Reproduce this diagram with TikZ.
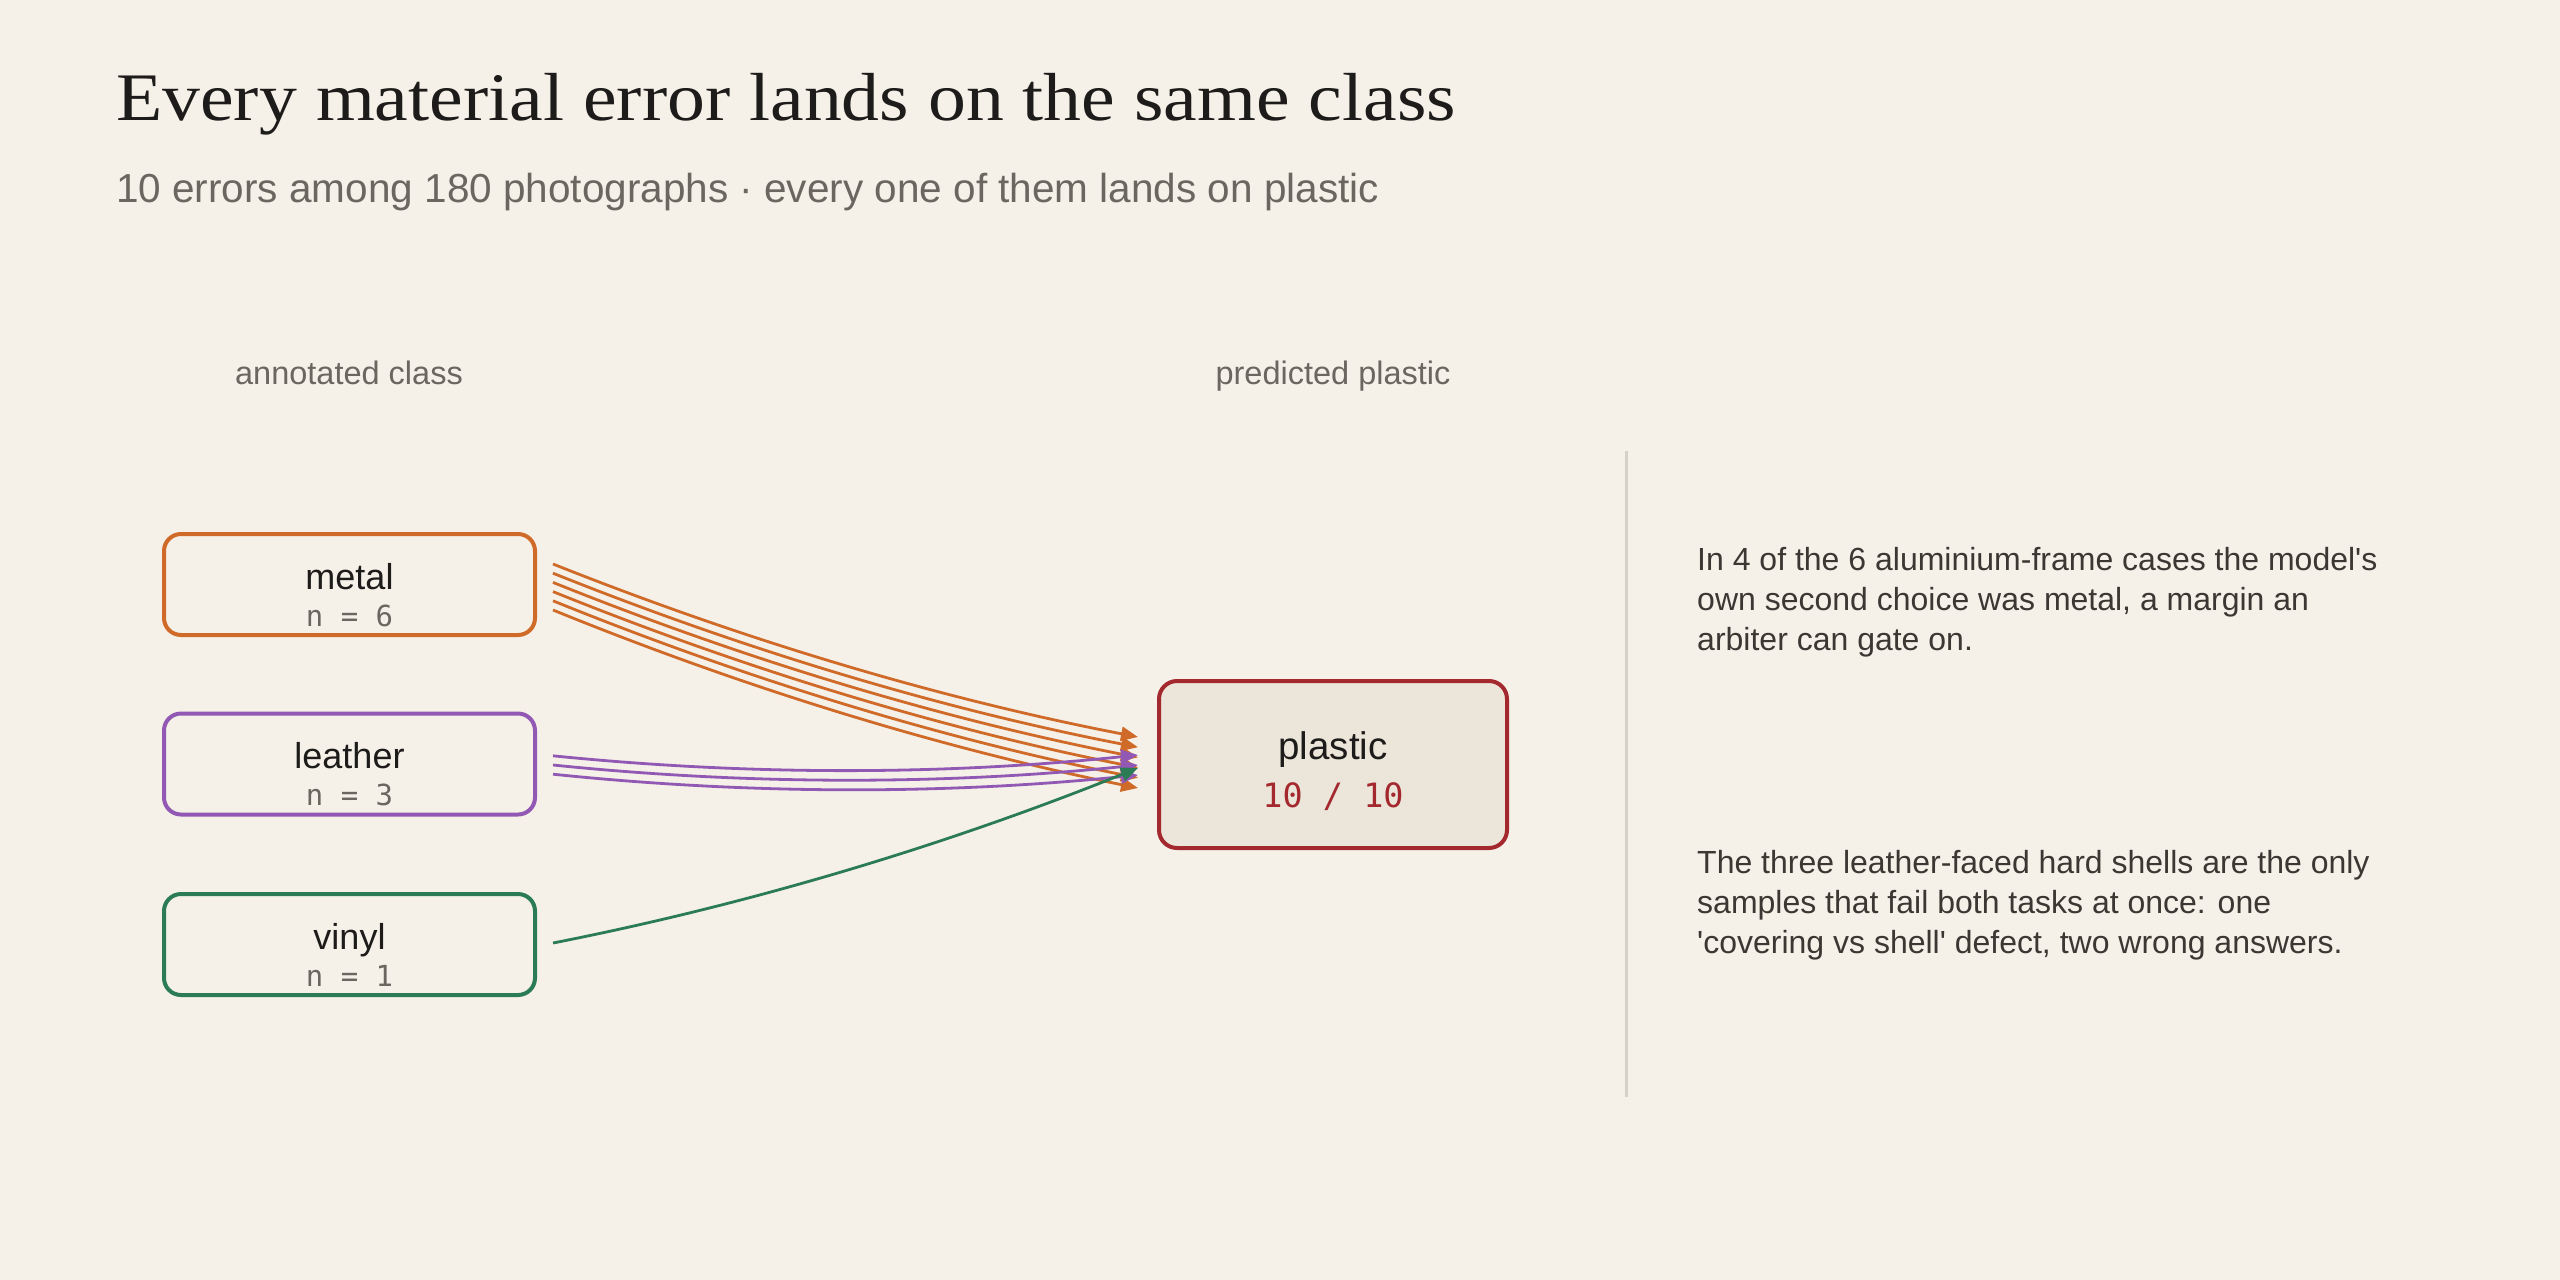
\documentclass[tikz,border=0pt]{standalone}
\usepackage{fontspec}
\setmainfont{Liberation Serif}
\newfontfamily\titlef[FakeStretch=1.114]{Liberation Serif}
\newfontfamily\sansf{Liberation Sans}
\newfontfamily\monof{DejaVu Sans Mono}
\usetikzlibrary{arrows.meta,calc}
\definecolor{bg}{HTML}{F5F1E9}
\definecolor{ink}{HTML}{1E1C1A}
\definecolor{muted}{HTML}{6B665F}
\definecolor{bodyc}{HTML}{3B3833}
\definecolor{sepc}{HTML}{D6D1C8}
\definecolor{orangec}{HTML}{D06A28}
\definecolor{purplec}{HTML}{9159B3}
\definecolor{greenc}{HTML}{2B7B54}
\definecolor{redc}{HTML}{A3292E}
\definecolor{plasticfill}{HTML}{ECE5DA}
\tikzset{
  srcbox/.style={draw, line width=4pt, rounded corners=17pt, minimum width=371pt, minimum height=101pt, inner sep=0pt, outer sep=0pt},
  tgtbox/.style={draw=redc, fill=plasticfill, line width=4pt, rounded corners=18pt, minimum width=348pt, minimum height=167pt, inner sep=0pt, outer sep=0pt},
  lbl/.style={anchor=base, inner sep=0pt, text=ink, font=\sansf\fontsize{36}{40}\selectfont},
  cnt/.style={anchor=base, inner sep=0pt, text=muted, font=\monof\fontsize{29}{32}\selectfont},
  hdr/.style={anchor=base, inner sep=0pt, text=muted, font=\sansf\fontsize{32.5}{36}\selectfont},
  para/.style={anchor=base west, inner sep=0pt, text=bodyc, align=left, font=\sansf\fontsize{32}{40}\selectfont},
  flow/.style={line width=2.8pt, -{Triangle[length=17pt,width=14pt]}},
}
% quadratic curve from #1 to #2 bending through mid + 30 down
\newcommand{\qflow}[3]{%
  \coordinate (qc) at ($(#2)!0.5!(#3)+(0,30)$);
  \draw[flow, draw=#1] (#2) .. controls ($(#2)!0.6667!(qc)$) and ($(#3)!0.6667!(qc)$) .. (#3);
}
\begin{document}
\begin{tikzpicture}[x=1pt,y=-1pt]
\useasboundingbox (0,0) rectangle (2560,1280);
\fill[bg] (0,0) rectangle (2560,1280);

\node[anchor=base west, inner sep=0pt, text=ink, font=\titlef\fontsize{68}{72}\selectfont] (title) at (116,120) {Every material error lands on the same class};
\node[anchor=base west, inner sep=0pt, text=muted, font=\sansf\fontsize{40.5}{44}\selectfont] (subtitle) at (116,202) {10 errors among 180 photographs · every one of them lands on plastic};

\node[hdr] (hdrleft) at (349,384) {annotated class};
\node[hdr] (hdrright) at (1333,384) {predicted plastic};

\node[srcbox, draw=orangec] (metal) at (349.5,584.5) {};
\node[srcbox, draw=purplec] (leather) at (349.5,764) {};
\node[srcbox, draw=greenc] (vinyl) at (349.5,944.5) {};
\node[tgtbox] (plastic) at (1333,764.5) {};

\node[lbl] (metallbl) at ($(metal.center)+(0,4.5)$) {metal};
\node[cnt] (metaln) at ($(metal.center)+(0,41.5)$) {n = 6};
\node[lbl] (leatherlbl) at ($(leather.center)+(0,4.5)$) {leather};
\node[cnt] (leathern) at ($(leather.center)+(0,41.5)$) {n = 3};
\node[lbl] (vinyllbl) at ($(vinyl.center)+(0,4.5)$) {vinyl};
\node[cnt] (vinyln) at ($(vinyl.center)+(0,41.5)$) {n = 1};
\node[lbl, font=\sansf\fontsize{38.5}{42}\selectfont] (plasticlbl) at ($(plastic.center)+(0,-5.5)$) {plastic};
\node[cnt, text=redc, font=\monof\fontsize{33.5}{36}\selectfont] (plasticn) at ($(plastic.center)+(0,42.5)$) {10 / 10};

% flows: metal
\foreach \i in {0,...,5} {
  \pgfmathsetmacro\sy{-20.5+9.2*\i}
  \pgfmathsetmacro\ey{-27.5+10.2*\i}
  \coordinate (ms\i) at ($(metal.east)+(18,\sy)$);
  \coordinate (me\i) at ($(plastic.west)+(-21,\ey)$);
  \qflow{orangec}{ms\i}{me\i}
}
% flows: leather
\foreach \i in {0,1,2} {
  \pgfmathsetmacro\sy{-8.2+9.2*\i}
  \pgfmathsetmacro\ey{-9.5+10*\i}
  \coordinate (ls\i) at ($(leather.east)+(18,\sy)$);
  \coordinate (le\i) at ($(plastic.west)+(-21,\ey)$);
  \qflow{purplec}{ls\i}{le\i}
}
% flow: vinyl
\coordinate (vs0) at ($(vinyl.east)+(18,-1.5)$);
\coordinate (ve0) at ($(plastic.west)+(-21,3.5)$);
\qflow{greenc}{vs0}{ve0}

% separator
\draw[sepc, line width=3pt] (1626.5,451) -- (1626.5,1097);

\node[para] (note1) at (1697,650) {In 4 of the 6 aluminium-frame cases the model's\\own second choice was metal, a margin an\\arbiter can gate on.};
\node[para] (note2) at (1697,953) {The three leather-faced hard shells are the only\\samples that fail both tasks at once: one\\'covering vs shell' defect, two wrong answers.};
\end{tikzpicture}
\end{document}
